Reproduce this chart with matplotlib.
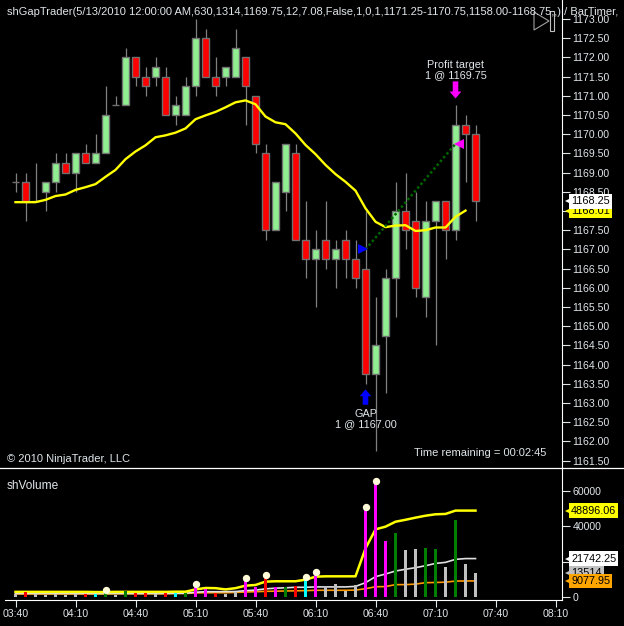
import matplotlib
matplotlib.use("Agg")
import matplotlib.pyplot as plt
from matplotlib.lines import Line2D
from matplotlib.patches import Polygon, Rectangle
from matplotlib.transforms import IdentityTransform

plt.rcParams["font.family"] = ["Liberation Sans", "DejaVu Sans"]

W, H = 624, 626
TEXT = "#dfe6ea"

# 5 minute bars, 03:40 onwards
opens = [1168.75, 1168.75, 1168.25, 1168.5, 1168.75, 1169.25, 1169.0, 1169.5, 1169.25, 1169.5,
         1170.75, 1170.75, 1172.0, 1171.5, 1171.5, 1171.5, 1170.5, 1170.5, 1171.25, 1172.5,
         1171.5, 1171.5, 1171.5, 1172.0, 1171.0, 1169.5, 1167.5, 1168.5, 1169.5, 1167.25,
         1166.75, 1167.25, 1166.75, 1167.25, 1166.75, 1166.5, 1163.75, 1164.75, 1166.25, 1168.0,
         1167.75, 1165.75, 1167.75, 1168.25, 1167.5, 1170.25, 1170.0]
closes = [1168.75, 1168.25, 1168.25, 1168.75, 1169.25, 1169.0, 1169.5, 1169.25, 1169.5, 1170.5,
          1170.75, 1172.0, 1171.5, 1171.25, 1171.75, 1170.5, 1170.75, 1171.25, 1172.5, 1171.5,
          1171.25, 1171.75, 1172.25, 1171.25, 1169.75, 1167.5, 1168.75, 1169.75, 1167.25, 1166.75,
          1167.0, 1166.75, 1167.0, 1166.75, 1166.25, 1163.75, 1164.5, 1166.25, 1168.0, 1167.5,
          1166.0, 1167.75, 1168.25, 1167.5, 1170.25, 1170.0, 1168.25]
highs = [1169.0, 1169.0, 1169.25, 1168.75, 1169.5, 1169.5, 1169.5, 1169.75, 1170.0, 1171.25,
         1171.0, 1172.25, 1172.0, 1171.75, 1172.0, 1171.75, 1171.0, 1171.5, 1173.0, 1172.75,
         1172.0, 1171.75, 1172.75, 1172.0, 1171.0, 1169.75, 1168.75, 1169.75, 1169.75, 1168.25,
         1167.5, 1168.25, 1167.25, 1167.5, 1167.25, 1168.0, 1165.75, 1166.5, 1168.75, 1169.0,
         1168.5, 1168.25, 1168.25, 1168.25, 1170.75, 1170.5, 1170.25]
lows = [1168.5, 1167.75, 1168.25, 1168.0, 1168.5, 1169.0, 1168.5, 1169.25, 1169.25, 1169.5,
        1170.75, 1170.75, 1171.25, 1171.0, 1171.25, 1170.5, 1170.25, 1170.5, 1171.0, 1171.5,
        1171.0, 1171.25, 1171.5, 1170.25, 1169.5, 1167.25, 1167.5, 1168.0, 1167.25, 1166.25,
        1165.5, 1166.5, 1166.0, 1166.25, 1166.0, 1163.5, 1161.75, 1163.25, 1165.25, 1167.0,
        1165.75, 1165.25, 1164.5, 1166.75, 1167.25, 1168.75, 1167.75]
sma = [1168.23, 1168.23, 1168.23, 1168.29, 1168.39, 1168.43, 1168.55, 1168.62, 1168.70, 1168.89,
       1169.07, 1169.35, 1169.55, 1169.71, 1169.92, 1169.97, 1170.04, 1170.15, 1170.39, 1170.49,
       1170.58, 1170.70, 1170.83, 1170.88, 1170.78, 1170.46, 1170.31, 1170.26, 1170.02, 1169.72,
       1169.48, 1169.20, 1168.96, 1168.76, 1168.53, 1168.07, 1167.72, 1167.58, 1167.62, 1167.63,
       1167.48, 1167.50, 1167.57, 1167.57, 1167.85, 1168.01]

volume = [1700, 2800, 1700, 1000, 1700, 1000, 1700, 1700, 1900, 4000,
          1000, 3500, 2000, 2000, 1700, 2000, 2400, 2100, 7200, 4500,
          2400, 1500, 3000, 10600, 5700, 12500, 5500, 5500, 6000, 11100,
          14000, 6000, 7200, 3400, 6600, 51100, 65600, 31700, 36000, 26600,
          27200, 27500, 27000, 16800, 43600, 18700, 13514]
vol_colors = ["silver", "red", "silver", "silver", "silver", "silver", "silver", "red", "cyan", "green",
              "silver", "green", "red", "red", "silver", "red", "cyan", "green", "magenta", "magenta",
              "red", "silver", "silver", "magenta", "magenta", "red", "magenta", "green", "red", "cyan",
              "magenta", "silver", "silver", "silver", "silver", "magenta", "magenta", "magenta", "green", "silver",
              "silver", "green", "green", "silver", "green", "silver", "silver"]
dot_bars = [9, 18, 23, 25, 29, 30, 35, 36]
vol_yellow = [2900, 2900, 2900, 2900, 2900, 2900, 2900, 2900, 2800, 2800,
              2900, 2900, 2900, 2900, 2900, 2900, 3000, 3000, 4300, 5100,
              5000, 4300, 5000, 6400, 6800, 8700, 8900, 8900, 8900, 9800,
              11500, 11700, 11700, 11700, 11700, 27500, 38300, 39800, 42600, 43700,
              44900, 46000, 46800, 47000, 48896, 48896, 48896]
vol_white = [2000, 2000, 2000, 2000, 2000, 2000, 2000, 2000, 2000, 2000,
             2000, 2000, 2000, 2000, 2000, 2000, 2100, 2100, 2700, 3000,
             3000, 3000, 3100, 3600, 3900, 4600, 5000, 5200, 5500, 5500,
             5700, 5700, 5700, 5700, 6000, 8100, 11500, 13000, 14700, 15700,
             16600, 17700, 19000, 19600, 21300, 21742, 21742]
vol_orange = [1700, 1700, 1700, 1700, 1700, 1700, 1700, 1700, 1700, 1700,
              1800, 1800, 1800, 1800, 1800, 1800, 2000, 2000, 2300, 2400,
              2400, 2400, 2600, 2800, 3000, 3200, 3300, 3400, 3500, 3600,
              3800, 3800, 3800, 3800, 3900, 4700, 5800, 5900, 7000, 7000,
              7300, 8100, 8200, 8400, 9000, 9078, 9078]

price_ticks = [1161.5 + 0.5 * k for k in range(24)]
vol_ticks = [0, 20000, 40000, 60000]
vol_tick_labels = ["0", "", "40000", "60000"]
time_labels = ["03:40", "04:10", "04:40", "05:10", "05:40", "06:10", "06:40", "07:10", "07:40", "08:10"]
time_bars = [0, 6, 12, 18, 24, 30, 36, 42, 48, 54]

entry_bar, entry_price = 35, 1167.00
exit_bar, exit_price = 44, 1169.75

TITLE = ("shGapTrader(5/13/2010 12:00:00 AM,630,1314,1169.75,12,7.08,False,1,0,1,"
         "1171.25-1170.75,1158.00-1168.75,,) / BarTimer, ")

fig = plt.figure(figsize=(W / 100, H / 100), dpi=100, facecolor="black")
ax = fig.add_axes([0, (H - 468) / H, 562 / W, 468 / H], facecolor="black")
vax = fig.add_axes([0, (H - 600) / H, 562 / W, 132 / H], facecolor="black", sharex=ax)

x = list(range(len(opens)))

# candles
ax.vlines(x, lows, highs, color="#808080", lw=0.9, zorder=2)
bottoms = [min(o, c) for o, c in zip(opens, closes)]
heights = [abs(o - c) for o, c in zip(opens, closes)]
body_colors = ["#ff0000" if c < o else "#90ee90" for o, c in zip(opens, closes)]
ax.bar(x, heights, bottom=bottoms, width=0.62, color=body_colors, edgecolor="#707070", linewidth=1.0, zorder=3)

ax.plot(x[:len(sma)], sma, color="#ffff00", lw=1.7, zorder=4)

# trade markers
ax.plot([entry_bar, exit_bar], [entry_price, exit_price], color="#006400", lw=1.8, ls=(0, (1, 1)), zorder=5)
ax.plot([entry_bar - 0.3], [entry_price], ">", color="#0000ff", ms=7, mew=0, zorder=6)
ax.plot([exit_bar + 0.3], [exit_price], "<", color="#ff00ff", ms=7, mew=0, zorder=6)

ax.annotate("", xy=(exit_bar, highs[exit_bar]), xytext=(0, 24), textcoords="offset pixels",
            arrowprops=dict(arrowstyle="simple,head_width=0.85,head_length=0.5,tail_width=0.4",
                            color="#ff00ff", shrinkA=0, shrinkB=5, lw=0))
ax.annotate("", xy=(entry_bar, lows[entry_bar]), xytext=(0, -21), textcoords="offset pixels",
            arrowprops=dict(arrowstyle="simple,head_width=0.85,head_length=0.5,tail_width=0.4",
                            color="#0000ff", shrinkA=0, shrinkB=4, lw=0))
ax.annotate(f"Profit target\n1 @ {exit_price:.2f}", xy=(exit_bar, highs[exit_bar]), xytext=(0, 25),
            textcoords="offset pixels", ha="center", va="bottom", color=TEXT, fontsize=7.8, linespacing=1.05)
ax.annotate(f"GAP\n1 @ {entry_price:.2f}", xy=(entry_bar, lows[entry_bar]), xytext=(0, -25),
            textcoords="offset pixels", ha="center", va="top", color=TEXT, fontsize=7.8, linespacing=1.05)

ax.set_xlim(-1.55, 54.65)
ax.set_ylim(1173 - 449 / 38.4, 1173 + 19 / 38.4)
ax.set_yticks(price_ticks)
ax.set_yticklabels([f"{p:.2f}" for p in price_ticks])
ax.yaxis.tick_right()
ax.tick_params(axis="y", colors=TEXT, labelsize=7.6, length=6, width=0.8, pad=1.5)
ax.tick_params(axis="x", length=0, labelbottom=False)
for side in ["top", "left", "bottom"]:
    ax.spines[side].set_visible(False)
ax.spines["right"].set_color("white")

# volume panel, bars sit on top of the averages
vax.plot(x, vol_orange, color="#ff9a00", lw=1.2, zorder=2)
vax.plot(x, vol_white, color="#e0e0e0", lw=1.2, zorder=2)
vax.plot(x, vol_yellow, color="#ffff00", lw=1.8, zorder=3)
vax.bar(x, volume, width=0.27, color=vol_colors, linewidth=0, zorder=4)
vax.scatter(dot_bars, [volume[i] for i in dot_bars], s=28, color="#fffbd8", linewidth=0, zorder=5)

vax.set_ylim(-1700, 73000)
vax.set_yticks(vol_ticks)
vax.set_yticklabels(vol_tick_labels)
vax.yaxis.tick_right()
vax.set_xticks(time_bars)
vax.set_xticklabels(time_labels)
vax.tick_params(axis="y", colors=TEXT, labelsize=7.6, length=6, width=0.8, pad=1.5)
vax.tick_params(axis="x", colors=TEXT, labelsize=7.6, length=5, width=0.8, pad=1.5)
for side in ["top", "left"]:
    vax.spines[side].set_visible(False)
vax.spines["right"].set_color("white")
vax.spines["bottom"].set_color("white")
vax.spines["bottom"].set_bounds(-1.05, 54.65)


def flag(axis, value, label, color, z):
    # value marker sitting on the right hand scale
    axis.plot([1.0152], [value], "<", color=color, ms=9.2, mew=0, clip_on=False,
              transform=axis.get_yaxis_transform(), zorder=z)
    axis.annotate(label, xy=(1, value), xycoords=axis.get_yaxis_transform(), xytext=(9, 0),
                  textcoords="offset pixels", va="center", ha="left", color="black", fontsize=7.8,
                  annotation_clip=False, zorder=z,
                  bbox=dict(boxstyle="square,pad=0.2", fc=color, ec="none"))


flag(ax, sma[-1], f"{sma[-1]:.2f}", "#ffff00", 10)
flag(ax, closes[-1], f"{closes[-1]:.2f}", "white", 11)
flag(vax, 48896.06, "48896.06", "#ffff00", 10)
flag(vax, 21742.25, "21742.25", "white", 11)
flag(vax, volume[-1], str(volume[-1]), "#c0c0c0", 12)
flag(vax, 9077.95, "9077.95", "#ffa500", 13)

# texts placed by pixel position
fig.text(7 / W, 1 - 12 / H, TITLE, color=TEXT, fontsize=8.05, va="center")
fig.text(7 / W, 1 - 459 / H, "© 2010 NinjaTrader, LLC", color=TEXT, fontsize=8.05, va="center")
fig.text(546 / W, 1 - 453 / H, "Time remaining = 00:02:45", color=TEXT, fontsize=8.05, va="center", ha="right")
fig.text(7 / W, 1 - 486 / H, "shVolume", color=TEXT, fontsize=8.6, va="center")

fig.add_artist(Line2D([0, 1], [1 - 468 / H, 1 - 468 / H], color="white", lw=0.9))
fig.add_artist(Polygon([(534, H - 12), (549, H - 21), (534, H - 30)], closed=True, fill=False, ec="#a0a0a0",
                       lw=0.8, transform=IdentityTransform()))
fig.add_artist(Rectangle((550, H - 31), 4, 20, fill=True, fc="black", ec="#c0c0c0", lw=0.8,
                         transform=IdentityTransform()))

fig.savefig("out.png", dpi=100, facecolor="black")
